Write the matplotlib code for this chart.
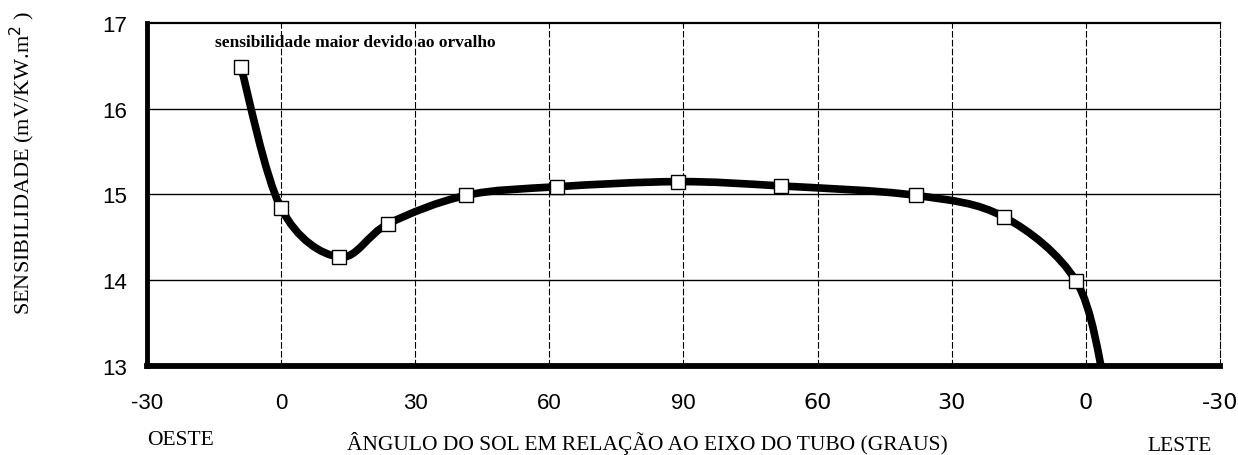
import numpy as np
import matplotlib
matplotlib.use("Agg")
import matplotlib.pyplot as plt
from matplotlib.path import Path
from matplotlib.patches import PathPatch

# angulo em escala continua: -30..90 (oeste) e depois 120..210 = 60..-30 (leste)
angulo = [-9, 0, 13, 24, 41.4, 61.6, 88.7, 111.7, 141.9, 161.6, 177.8]
sensib = [16.49, 14.84, 14.27, 14.66, 14.99, 15.09, 15.15, 15.10, 14.99, 14.74, 13.99]
# fim da curva (sem marcador, sai pelo eixo inferior)
angulo_fim = 184.0
sensib_fim = 12.85

posicoes_x = [-30, 0, 30, 60, 90, 120, 150, 180, 210]
rotulos_x = ["-30", "0", "30", "60", "90", "60", "30", "0", "-30"]
posicoes_y = [13, 14, 15, 16, 17]


def caminho_suave(xs, ys):
    # catmull-rom convertido em bezier cubica
    pts = np.column_stack([xs, ys])
    n = len(pts)
    verts = [pts[0]]
    codes = [Path.MOVETO]
    for i in range(n - 1):
        p0 = pts[i - 1] if i > 0 else pts[i]
        p1 = pts[i]
        p2 = pts[i + 1]
        p3 = pts[i + 2] if i + 2 < n else pts[i + 1]
        verts += [p1 + (p2 - p0) / 6, p2 - (p3 - p1) / 6, p2]
        codes += [Path.CURVE4] * 3
    return Path(verts, codes)


fig = plt.figure(figsize=(12.38, 4.56), dpi=100)
ax = fig.add_axes([0.1187, 0.1952, 0.8668, 0.7522])

ax.set_xlim(-30, 210)
ax.set_ylim(13, 17)

# grade
for y in posicoes_y[1:-1]:
    ax.axhline(y, color="black", lw=1.0, zorder=1)
for x in posicoes_x[1:-1]:
    ax.axvline(x, color="black", lw=0.8, ls=(0, (6, 2)), zorder=1)

caminho = caminho_suave(angulo + [angulo_fim], sensib + [sensib_fim])
ax.add_patch(PathPatch(caminho, facecolor="none", edgecolor="black",
                       lw=5.5, capstyle="butt", zorder=2))
ax.plot(angulo, sensib, "s", mfc="white", mec="black", ms=10, mew=1.0, zorder=3)

ax.spines["left"].set_linewidth(3.5)
ax.spines["bottom"].set_linewidth(4.2)
ax.spines["top"].set_linewidth(1.6)
ax.spines["right"].set_linewidth(0.8)
ax.spines["right"].set_linestyle((0, (6, 2)))

ax.set_xticks(posicoes_x)
ax.set_xticklabels(rotulos_x)
ax.set_yticks(posicoes_y)
ax.tick_params(length=0)
ax.tick_params(axis="x", pad=19)
ax.tick_params(axis="y", pad=14)
for lab in ax.get_yticklabels():
    lab.set_fontfamily("Liberation Sans")
    lab.set_fontsize(16)
for i, lab in enumerate(ax.get_xticklabels()):
    if i < 5:
        lab.set_fontfamily("Liberation Sans")
        lab.set_fontsize(16)
    else:
        lab.set_fontfamily("DejaVu Sans")
        lab.set_fontsize(16)

ax.text(-14.8, 16.78, "sensibilidade maior devido ao orvalho",
        fontfamily="Liberation Serif", fontsize=12.5, fontweight="bold",
        va="center", ha="left")

fig.text(0.018, 0.642, "SENSIBILIDADE (mV/KW.m$^2$ )", rotation=90,
         fontfamily="Liberation Serif", fontsize=16, ha="center", va="center")
fig.text(0.523, 0.028, "ÂNGULO DO SOL EM RELAÇÃO AO EIXO DO TUBO (GRAUS)",
         fontfamily="Liberation Serif", fontsize=15.5, ha="center", va="center")
fig.text(0.146, 0.035, "OESTE", fontfamily="Liberation Serif", fontsize=15.5,
         ha="center", va="center")
fig.text(0.953, 0.02, "LESTE", fontfamily="Liberation Serif", fontsize=15.5,
         ha="center", va="center")

fig.savefig("out.png", dpi=100)
